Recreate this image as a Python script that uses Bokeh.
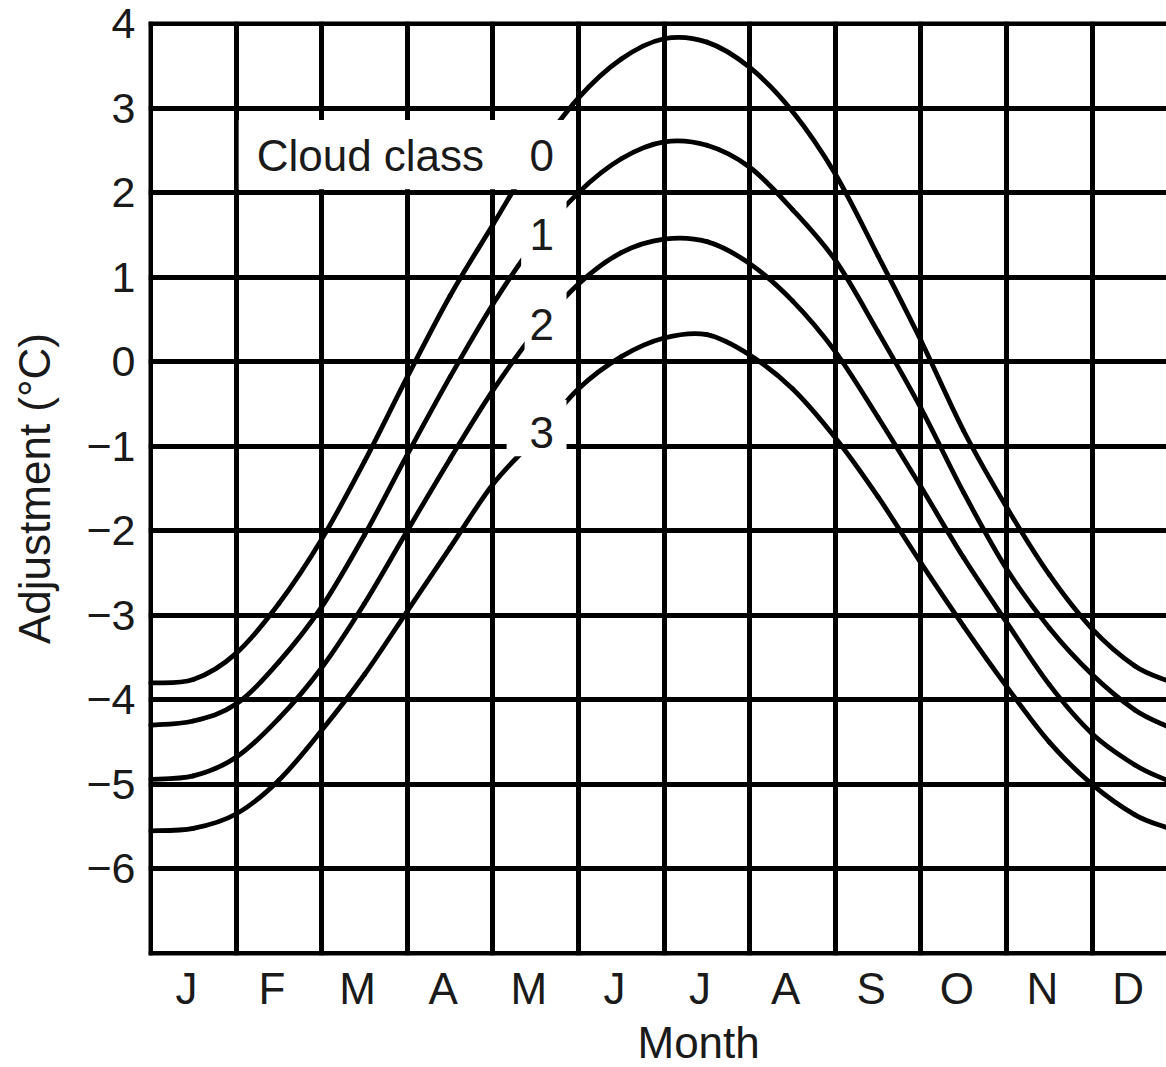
from bokeh.plotting import figure
from bokeh.models import FixedTicker, Label, BoxAnnotation, Range1d, Grid, LinearAxis, Title
from bokeh.embed import file_html
from bokeh.resources import INLINE

# ---------------- data ----------------
months = ["J", "F", "M", "A", "M", "J", "J", "A", "S", "O", "N", "D"]
y_ticks = [4, 3, 2, 1, 0, -1, -2, -3, -4, -5, -6]
y_tick_labels = ["4", "3", "2", "1", "0", "\u22121", "\u22122", "\u22123", "\u22124", "\u22125", "\u22126"]
month_pos = [0, 0.5, 1, 1.5, 2, 2.5, 3, 3.5, 4, 4.5, 5, 5.5, 6, 6.5, 7, 7.5,
             8, 8.5, 9, 9.5, 10, 10.5, 11, 11.5, 11.87]
class0 = [-3.80, -3.76, -3.45, -2.86, -2.10, -1.18, -0.18, 0.78, 1.62, 2.45, 3.12, 3.58, 3.82,
          3.78, 3.48, 2.96, 2.22, 1.25, 0.25, -0.82, -1.72, -2.52, -3.16, -3.60, -3.77]
class1 = [-4.30, -4.25, -4.05, -3.55, -2.90, -2.05, -1.10, -0.18, 0.68, 1.42, 2.00, 2.40, 2.60,
          2.56, 2.30, 1.80, 1.20, 0.35, -0.55, -1.55, -2.45, -3.15, -3.70, -4.12, -4.31]
class2 = [-4.94, -4.90, -4.68, -4.22, -3.62, -2.86, -2.00, -1.15, -0.34, 0.36, 0.92, 1.29, 1.45,
          1.42, 1.16, 0.72, 0.12, -0.66, -1.48, -2.32, -3.08, -3.82, -4.40, -4.77, -4.95]
class3 = [-5.55, -5.52, -5.35, -4.95, -4.36, -3.70, -2.95, -2.20, -1.45, -0.90, -0.32, 0.06, 0.28,
          0.32, 0.08, -0.32, -0.90, -1.60, -2.38, -3.13, -3.84, -4.50, -5.00, -5.36, -5.51]
series = [class0, class1, class2, class3]
class_names = ["0", "1", "2", "3"]

FONT = "Liberation Sans"
TXT = "#1a1a1a"

X0, X1 = -0.0234, 11.869
p = figure(width=1166, height=1067, output_backend="svg", toolbar_location=None,
           x_range=Range1d(X0, X1), y_range=Range1d(-7.024, 4.024),
           min_border_left=148, min_border_right=0, min_border_top=21, min_border_bottom=112,
           x_axis_location=None)
p.outline_line_color = None
p.background_fill_color = "white"
p.border_fill_color = "white"

# grid
p.ygrid.ticker = FixedTicker(ticks=list(range(-7, 5)))
p.ygrid.grid_line_color = "black"
p.ygrid.grid_line_width = 5
p.ygrid.grid_line_alpha = 1
xgrid = Grid(dimension=0, ticker=FixedTicker(ticks=list(range(0, 13))),
             grid_line_color="black", grid_line_width=5)
p.add_layout(xgrid)

# y axis
ya = p.yaxis[0]
ya.ticker = FixedTicker(ticks=y_ticks)
ya.major_label_overrides = {t: l for t, l in zip(y_ticks, y_tick_labels)}
ya.axis_line_color = None
ya.major_tick_line_color = None
ya.minor_tick_line_color = None
ya.major_tick_out = 0
ya.major_label_standoff = 13
ya.major_label_text_font = FONT
ya.major_label_text_font_size = "43px"
ya.major_label_text_color = TXT
ya.axis_label = "Adjustment (\u00b0C)"
ya.axis_label_text_font = FONT
ya.axis_label_text_font_size = "44px"
ya.axis_label_text_font_style = "normal"
ya.axis_label_text_color = TXT
ya.axis_label_standoff = 24

# month axis: one label in each month cell
p.extra_x_ranges = {"m": Range1d(X0 - 0.42, X1 - 0.42)}
xa = LinearAxis(x_range_name="m", ticker=FixedTicker(ticks=list(range(12))),
                major_label_overrides={i: m for i, m in enumerate(months)})
xa.axis_line_color = None
xa.major_tick_line_color = None
xa.minor_tick_line_color = None
xa.major_tick_out = 0
xa.major_tick_in = 0
xa.major_label_standoff = 8
xa.major_label_text_font = FONT
xa.major_label_text_font_size = "44px"
xa.major_label_text_color = TXT
p.add_layout(xa, "below")

p.add_layout(Title(text="Month", align="left", offset=489, standoff=0,
                   text_font=FONT, text_font_size="44px", text_font_style="normal",
                   text_color=TXT), "below")


def catmull_bezier(xs, ys):
    n = len(xs)
    out = {k: [] for k in ["x0", "y0", "x1", "y1", "cx0", "cy0", "cx1", "cy1"]}
    for i in range(n - 1):
        ip = max(i - 1, 0)
        inn = min(i + 2, n - 1)
        out["x0"].append(xs[i]); out["y0"].append(ys[i])
        out["x1"].append(xs[i + 1]); out["y1"].append(ys[i + 1])
        out["cx0"].append(xs[i] + (xs[i + 1] - xs[ip]) / 6.0)
        out["cy0"].append(ys[i] + (ys[i + 1] - ys[ip]) / 6.0)
        out["cx1"].append(xs[i + 1] - (xs[inn] - xs[i]) / 6.0)
        out["cy1"].append(ys[i + 1] - (ys[inn] - ys[i]) / 6.0)
    return out


for ys in series:
    seg = catmull_bezier(month_pos, ys)
    p.bezier(x0=seg["x0"], y0=seg["y0"], x1=seg["x1"], y1=seg["y1"],
             cx0=seg["cx0"], cy0=seg["cy0"], cx1=seg["cx1"], cy1=seg["cy1"],
             line_color="black", line_width=4.8, line_cap="round")

# white label backgrounds (gaps in the curves / grid)
boxes = [
    (1.03, 4.97, 2.04, 2.86),
    (4.33, 4.86, 1.06, 1.92),
    (4.37, 4.86, 0.08, 0.85),
    (4.16, 4.86, -1.12, -0.45),
]
for l, r, b, t in boxes:
    p.add_layout(BoxAnnotation(left=l, right=r, bottom=b, top=t, fill_color="white",
                               fill_alpha=1, line_color=None, line_alpha=0))

p.add_layout(Label(x=1.24, y=2.44, text="Cloud class", text_align="left", text_baseline="middle",
                   text_font=FONT, text_font_size="44px", text_color=TXT))
label_y = [2.44, 1.51, 0.44, -0.84]
for name, ly in zip(class_names, label_y):
    p.add_layout(Label(x=4.57, y=ly, text=name, text_align="center", text_baseline="middle",
                       text_font=FONT, text_font_size="44px", text_color=TXT))

open("out.html", "w").write(file_html(p, INLINE))
